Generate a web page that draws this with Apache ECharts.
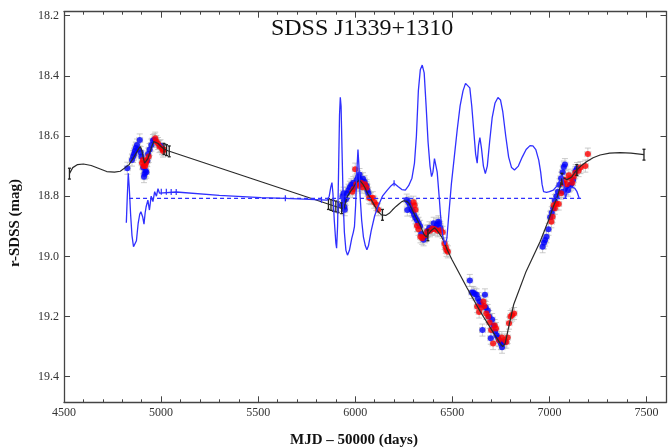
<!DOCTYPE html>
<html>
<head>
<meta charset="utf-8">
<script src="https://cdn.jsdelivr.net/npm/echarts@6/dist/echarts.min.js"></script>
<style>
html,body{margin:0;padding:0;background:#fff;}
#chart{width:670px;height:448px;}
</style>
</head>
<body>
<div id="chart"></div>
<script>
// ---------------- DATA ----------------
const titleText = 'SDSS J1339+1310';
const xTitle = 'MJD \u2013 50000 (days)';
const yTitle = 'r-SDSS (mag)';
const yTickValues = [18.2, 18.4, 18.6, 18.8, 19.0, 19.2, 19.4];

// photometric points (MJD-50000, r mag)
const bluePoints = [
  [4826,18.707],[4850,18.68],[4856,18.668],[4861,18.66],[4865,18.65],[4870,18.64],[4876,18.63],[4882,18.645],
  [4890,18.613],[4895,18.655],[4899,18.668],[4908,18.705],[4912,18.735],[4915,18.725],[4920,18.715],[4924,18.72],
  [4929,18.682],[4933,18.66],[4941,18.645],[4950,18.63],[4958,18.615],[4966,18.612],[4997,18.632],
  [5930,18.83],[5935,18.80],[5940,18.79],[5942,18.815],[5944,18.835],[5946,18.845],[5952,18.81],[5958,18.79],
  [5965,18.78],[5972,18.77],[5980,18.762],[5990,18.755],[5996,18.77],[6008,18.745],[6015,18.735],[6022,18.728],
  [6026,18.745],[6032,18.76],[6040,18.742],[6048,18.752],[6058,18.765],[6063,18.78],[6068,18.79],
  [6265,18.813],[6268,18.846],[6275,18.82],[6282,18.83],[6290,18.845],[6296,18.85],[6303,18.862],[6310,18.872],
  [6318,18.88],[6326,18.89],[6334,18.9],[6340,18.925],[6352,18.945],[6360,18.935],[6372,18.915],[6382,18.905],
  [6392,18.91],[6404,18.89],[6412,18.905],[6420,18.895],[6428,18.885],[6432,18.89],[6438,18.905],
  [6590,19.08],[6600,19.12],[6608,19.12],[6615,19.125],[6625,19.128],[6632,19.14],[6640,19.15],[6648,19.16],
  [6655,19.245],[6668,19.128],[6672,19.17],[6682,19.18],[6690,19.2],[6698,19.272],[6705,19.21],[6712,19.23],
  [6720,19.25],[6728,19.262],[6735,19.27],[6742,19.28],[6750,19.29],[6756,19.302],[6762,19.285],[6770,19.285],
  [6965,18.968],[6972,18.955],[6978,18.946],[6985,18.935],[6995,18.91],[7004,18.87],[7012,18.855],[7020,18.84],
  [7028,18.815],[7036,18.8],[7044,18.785],[7052,18.762],[7060,18.74],[7068,18.72],[7074,18.703],[7080,18.695],
  [7070,18.785],[7088,18.775],[7096,18.78],[7105,18.765],[7112,18.76],[7122,18.745],[7135,18.715],[7142,18.708]
];
const redPoints = [
  [4902,18.69],[4906,18.68],[4910,18.70],[4918,18.70],[4922,18.69],[4926,18.68],[4936,18.668],[4970,18.607],
  [4976,18.618],[4984,18.625],[4992,18.635],[5005,18.642],[5010,18.65],[5014,18.645],
  [5985,18.785],[5992,18.776],[6000,18.71],[6005,18.76],[6018,18.765],[6030,18.755],[6035,18.77],[6050,18.76],
  [6058,18.772],[6072,18.805],[6080,18.808],[6090,18.805],[6098,18.82],[6108,18.828],[6118,18.845],
  [6300,18.82],[6305,18.83],[6310,18.845],[6318,18.898],[6326,18.91],[6336,18.935],[6345,18.94],[6362,18.93],
  [6370,18.918],[6385,18.915],[6397,18.907],[6410,18.91],[6425,18.915],[6440,18.912],[6450,18.92],[6460,18.957],
  [6466,18.97],[6470,18.98],[6477,18.985],
  [6628,19.167],[6638,19.185],[6650,19.17],[6660,19.15],[6665,19.165],[6675,19.19],[6685,19.2],[6692,19.22],
  [6700,19.245],[6710,19.29],[6718,19.23],[6725,19.24],[6740,19.278],[6755,19.27],[6770,19.278],[6778,19.285],
  [6785,19.27],[6792,19.222],[6800,19.2],[6808,19.195],[6818,19.19],
  [7010,18.885],[7016,18.868],[7022,18.83],[7028,18.84],[7035,18.825],[7048,18.826],[7060,18.79],[7072,18.758],
  [7080,18.745],[7090,18.76],[7100,18.73],[7108,18.74],[7118,18.755],[7125,18.735],[7133,18.722],[7150,18.715],
  [7160,18.705],[7185,18.7],[7198,18.66]
];
const pointErrMag = 0.02;   // half-length of grey error bars (mag)
const pointErrDays = 15;    // half-length of grey error bars (days)

// black model curve
const blackModel = [
  [4528,18.725],[4545,18.705],[4570,18.695],[4600,18.693],[4640,18.698],[4680,18.708],[4720,18.718],[4760,18.72],
  [4790,18.717],[4815,18.705],[4835,18.695],[4855,18.675],[4870,18.658],[4882,18.645],[4892,18.635],[4900,18.645],
  [4907,18.668],[4915,18.69],[4922,18.69],[4932,18.675],[4942,18.655],[4952,18.635],[4962,18.618],[4972,18.618],
  [4985,18.625],[5000,18.635],[5015,18.643],[5035,18.649],[5926,18.84],[5943,18.84],[5952,18.815],[5960,18.8],
  [5975,18.785],[5990,18.772],[6003,18.757],[6020,18.746],[6037,18.758],[6050,18.772],[6063,18.79],[6088,18.818],
  [6117,18.851],[6135,18.862],[6157,18.864],[6175,18.857],[6191,18.846],[6210,18.834],[6225,18.826],[6240,18.818],
  [6251,18.815],[6265,18.817],[6277,18.824],[6294,18.846],[6311,18.868],[6337,18.901],[6355,18.928],[6365,18.935],
  [6374,18.93],[6390,18.915],[6409,18.905],[6420,18.913],[6431,18.923],[6445,18.935],[6456,18.951],[6466,18.965],
  [6474,18.979],[6499,19.012],[6576,19.105],[6645,19.185],[6713,19.255],[6747,19.29],[6760,19.3],[6772,19.29],
  [6790,19.235],[6816,19.16],[6880,19.05],[6953,18.95],[6996,18.879],[7020,18.835],[7039,18.805],[7055,18.77],
  [7064,18.742],[7078,18.74],[7090,18.745],[7105,18.74],[7116,18.735],[7130,18.722],[7141,18.713],[7165,18.698],
  [7193,18.685],[7225,18.672],[7261,18.663],[7310,18.657],[7364,18.655],[7420,18.657],[7487,18.662]
];
const blackModelErr = [
  [4528,18.725],[5015,18.643],[5028,18.647],[5042,18.651],[5862,18.826],[5875,18.829],[5887,18.832],
  [5900,18.834],[5912,18.837],[5930,18.84],[6140,18.862],[6374,18.93],[7065,18.742],[7141,18.713],[7487,18.662]
];
const blackErrMag = 0.018;

// blue model curve
const blueModel = [
  [4821,18.888],[4826,18.80],[4831,18.724],[4836,18.77],[4843,18.86],[4850,18.93],[4858,18.968],[4865,18.973],
  [4873,18.948],[4882,18.89],[4890,18.86],[4896,18.852],[4905,18.868],[4912,18.893],[4918,18.855],[4923,18.835],
  [4932,18.813],[4940,18.846],[4949,18.80],[4958,18.818],[4967,18.785],[4976,18.80],[4984,18.775],[4992,18.79],
  [5000,18.785],[5078,18.786],[5300,18.797],[5515,18.805],[5640,18.807],[5856,18.813],[5866,18.80],[5874,18.77],
  [5880,18.755],[5885,18.79],[5892,18.88],[5900,18.955],[5904,18.973],[5909,18.9],[5914,18.72],[5919,18.53],
  [5923,18.471],[5927,18.50],[5932,18.65],[5938,18.82],[5944,18.92],[5952,18.98],[5960,18.996],[5970,18.98],
  [5982,18.94],[5990,18.92],[5996,18.9],[6002,18.83],[6008,18.72],[6014,18.645],[6019,18.70],[6025,18.80],
  [6033,18.88],[6042,18.935],[6052,18.965],[6060,18.978],[6068,18.965],[6082,18.915],[6100,18.865],[6120,18.83],
  [6140,18.80],[6165,18.78],[6185,18.765],[6200,18.757],[6220,18.768],[6240,18.778],[6258,18.78],[6275,18.765],
  [6292,18.74],[6305,18.69],[6315,18.60],[6325,18.45],[6335,18.38],[6345,18.364],[6355,18.39],[6365,18.50],
  [6375,18.62],[6385,18.70],[6393,18.735],[6400,18.72],[6408,18.675],[6414,18.68],[6422,18.72],[6432,18.80],
  [6440,18.87],[6450,18.93],[6462,18.962],[6472,18.94],[6482,18.86],[6495,18.76],[6510,18.67],[6525,18.58],
  [6540,18.50],[6555,18.45],[6568,18.425],[6578,18.42],[6590,18.44],[6600,18.50],[6610,18.58],[6620,18.66],
  [6628,18.69],[6635,18.63],[6642,18.605],[6650,18.64],[6660,18.70],[6670,18.725],[6680,18.70],[6692,18.62],
  [6705,18.54],[6720,18.49],[6735,18.472],[6748,18.48],[6760,18.52],[6775,18.60],[6790,18.67],[6805,18.705],
  [6820,18.713],[6840,18.70],[6860,18.67],[6880,18.645],[6900,18.632],[6915,18.633],[6930,18.645],[6945,18.68],
  [6955,18.72],[6962,18.76],[6970,18.785],[6985,18.787],[7000,18.785],[7020,18.78],[7040,18.765],[7055,18.745],
  [7065,18.73],[7075,18.76],[7082,18.806],[7090,18.79],[7100,18.775],[7115,18.77],[7130,18.773],[7142,18.785],
  [7150,18.80],[7153,18.807]
];
const blueModelErr = [
  [5001,18.785],[5027,18.785],[5052,18.786],[5078,18.786],[5640,18.807],[5826,18.812],[6200,18.757]
];
const blueErrMag = 0.01;
const meanLevel = [[4835,18.807],[7169,18.807]];

// ---------------- CHART ----------------
const chart = echarts.init(document.getElementById('chart'), null, {renderer:'canvas'});

function errBars(halfDays, halfMag, cap, color, width) {
  return function (params, api) {
    const x = api.value(0), y = api.value(1);
    const p = api.coord([x, y]);
    const t = api.coord([x, y - halfMag]);
    const b = api.coord([x, y + halfMag]);
    const style = {stroke: color, lineWidth: width, fill: null};
    const children = [
      {type:'line', shape:{x1:p[0], y1:t[1], x2:p[0], y2:b[1]}, style},
      {type:'line', shape:{x1:p[0]-cap, y1:t[1], x2:p[0]+cap, y2:t[1]}, style},
      {type:'line', shape:{x1:p[0]-cap, y1:b[1], x2:p[0]+cap, y2:b[1]}, style}
    ];
    if (halfDays > 0) {
      const l = api.coord([x - halfDays, y]);
      const r = api.coord([x + halfDays, y]);
      children.push({type:'line', shape:{x1:l[0], y1:p[1], x2:r[0], y2:p[1]}, style});
      children.push({type:'line', shape:{x1:l[0], y1:p[1]-cap, x2:l[0], y2:p[1]+cap}, style});
      children.push({type:'line', shape:{x1:r[0], y1:p[1]-cap, x2:r[0], y2:p[1]+cap}, style});
    }
    return {type:'group', children};
  };
}

const serif = 'Liberation Serif';
const axisCommon = {
  axisLine: {show:true, lineStyle:{color:'#444', width:1.3}},
  splitLine: {show:false}
};

const option = {
  animation: false,
  backgroundColor: '#fff',
  grid: {left:64, right:3.5, top:11.7, bottom:45.7, containLabel:false},
  xAxis: [
    Object.assign({}, axisCommon, {
      type:'value', min:4500, max:7603, interval:500, position:'bottom',
      axisTick:{show:true, inside:true, length:6, lineStyle:{color:'#444'}},
      minorTick:{show:true, splitNumber:5, length:3, lineStyle:{color:'#444'}},
      axisLabel:{show:true, showMaxLabel:false, fontFamily:serif, fontSize:12, color:'#333', margin:5,
        formatter:(v)=>String(Math.round(v))}
    }),
    Object.assign({}, axisCommon, {
      type:'value', min:4500, max:7603, interval:500, position:'top',
      axisTick:{show:true, inside:true, length:6, lineStyle:{color:'#444'}},
      minorTick:{show:true, splitNumber:5, length:3, lineStyle:{color:'#444'}},
      axisLabel:{show:false}
    })
  ],
  yAxis: [
    Object.assign({}, axisCommon, {
      type:'value', min:18.1867, max:19.4851, inverse:true, position:'left',
      axisTick:{show:true, inside:true, length:6, customValues:yTickValues, lineStyle:{color:'#444'}},
      axisLabel:{show:true, customValues:yTickValues, fontFamily:serif, fontSize:12, color:'#333', margin:5,
        formatter:(v)=>Number(v).toFixed(1)}
    }),
    Object.assign({}, axisCommon, {
      type:'value', min:18.1867, max:19.4851, inverse:true, position:'right',
      axisTick:{show:true, inside:true, length:6, customValues:yTickValues, lineStyle:{color:'#444'}},
      axisLabel:{show:false, customValues:yTickValues}
    })
  ],
  graphic: [
    {type:'text', style:{text:titleText, x:362, y:29, fontFamily:serif, fontSize:24, fill:'#111',
      textAlign:'center', textVerticalAlign:'middle'}},
    {type:'text', style:{text:xTitle, x:354, y:440, fontFamily:serif, fontSize:15, fontWeight:'bold', fill:'#111',
      textAlign:'center', textVerticalAlign:'middle'}},
    {type:'text', x:15, y:223, rotation:Math.PI/2, style:{text:yTitle, x:0, y:0, fontFamily:serif, fontSize:15,
      fontWeight:'bold', fill:'#111', textAlign:'center', textVerticalAlign:'middle'}}
  ],
  series: [
    {type:'custom', name:'errBlue', data:bluePoints, encode:{x:0,y:1}, z:1, silent:true,
      renderItem: errBars(pointErrDays, pointErrMag, 3, 'rgba(185,185,185,0.75)', 1)},
    {type:'custom', name:'errRed', data:redPoints, encode:{x:0,y:1}, z:1, silent:true,
      renderItem: errBars(pointErrDays, pointErrMag, 3, 'rgba(185,185,185,0.75)', 1)},
    {type:'scatter', name:'blue', data:bluePoints, symbol:'circle', symbolSize:6, z:3,
      itemStyle:{color:'#0000ff'}},
    {type:'scatter', name:'red', data:redPoints, symbol:'circle', symbolSize:6, z:3,
      itemStyle:{color:'#ff0000'}},
    {type:'line', name:'blackModel', data:blackModel, showSymbol:false, symbol:'none', z:4,
      lineStyle:{color:'#2a2a2a', width:1.2}},
    {type:'custom', name:'blackErr', data:blackModelErr, encode:{x:0,y:1}, z:4, silent:true,
      renderItem: errBars(0, blackErrMag, 1.5, '#222', 1.3)},
    {type:'line', name:'meanLevel', data:meanLevel, showSymbol:false, symbol:'none', z:5,
      lineStyle:{color:'#3030ff', width:1.3, type:[4,3]}},
    {type:'line', name:'blueModel', data:blueModel, showSymbol:false, symbol:'none', z:5,
      lineStyle:{color:'#3030ff', width:1.3}},
    {type:'custom', name:'blueErr', data:blueModelErr, encode:{x:0,y:1}, z:5, silent:true,
      renderItem: errBars(0, blueErrMag, 0, '#3030ff', 1.2)}
  ]
};
chart.setOption(option);
</script>
</body>
</html>
